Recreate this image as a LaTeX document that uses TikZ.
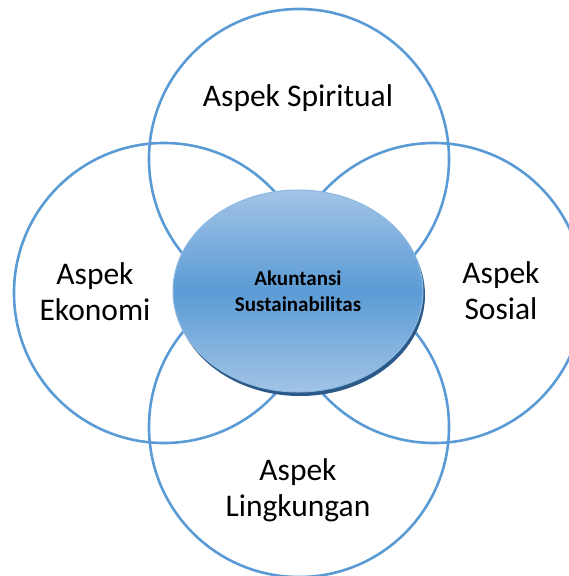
\documentclass[tikz,border=0pt]{standalone}
\usepackage{fontspec}
\setmainfont{Carlito}
\usetikzlibrary{shapes.geometric,shadows}
\definecolor{ringblue}{HTML}{5B9BD5}
\definecolor{lightblue}{HTML}{A2C4E6}
\definecolor{deepblue}{HTML}{2B5A88}

\begin{document}
\begin{tikzpicture}[x=1pt,y=-1pt,
  ring/.style={circle,draw=ringblue,line width=2.6pt,minimum size=300pt,inner sep=0pt},
  aspek/.style={align=center,anchor=base,font=\fontsize{31.5}{36}\selectfont},
  inti/.style={ellipse,draw=ringblue!70!white,line width=1pt,minimum width=250pt,minimum height=202pt,
    top color=lightblue,bottom color=lightblue,middle color=ringblue,
    drop shadow={shadow xshift=2pt,shadow yshift=-4pt,fill=deepblue,opacity=1},
    align=center,font=\fontsize{21}{26}\selectfont\bfseries}]
  \useasboundingbox (0,0) rectangle (569,576);
  \clip (0,0) rectangle (569,576);
  % empat lingkaran
  \node[ring] (spiritual) at (299,159) {};
  \node[ring] (ekonomi)   at (164,293) {};
  \node[ring] (sosial)    at (434,293) {};
  \node[ring] (lingkungan) at (299,427) {};
  \node[aspek] (tSpiritual)  at (298,106) {Aspek Spiritual};
  \node[aspek] (tEkonomi)    at (95,320)  {Aspek\\Ekonomi};
  \node[aspek] (tSosial)     at (501,319) {Aspek\\Sosial};
  \node[aspek] (tLingkungan) at (298,516) {Aspek\\Lingkungan};
  % elips di tengah
  \node[inti] (akuntansi) at (298,291) {Akuntansi\\Sustainabilitas};
\end{tikzpicture}
\end{document}
